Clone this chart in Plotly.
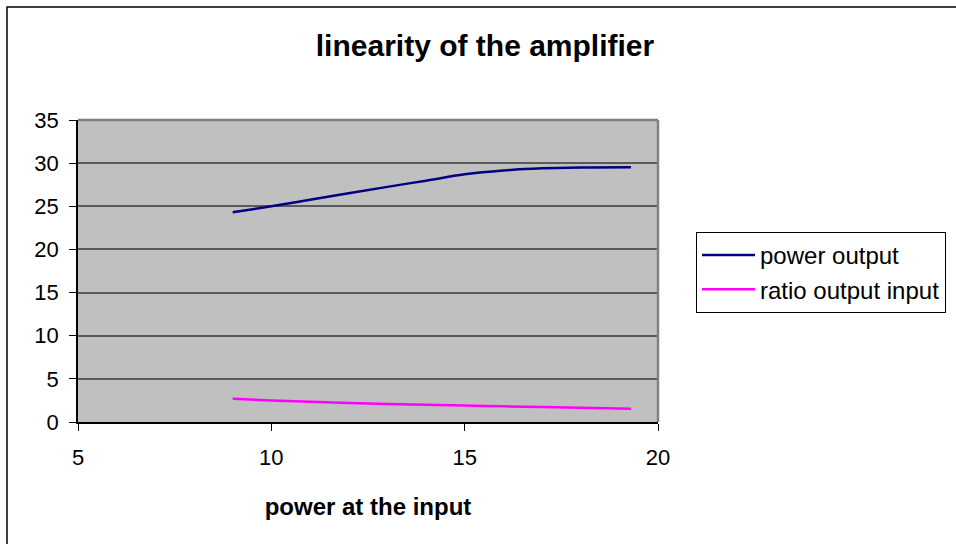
import plotly.graph_objects as go

# Data
power_input = [9, 10, 11, 12, 13, 14, 15, 16, 17, 18, 19.3]
power_output = [24.3, 25.0, 25.75, 26.5, 27.25, 27.97, 28.7, 29.15, 29.4, 29.5, 29.53]
ratio_output_input = [2.70, 2.50, 2.34, 2.21, 2.10, 2.00, 1.91, 1.82, 1.73, 1.64, 1.53]

x_ticks = [5, 10, 15, 20]
y_ticks = [0, 5, 10, 15, 20, 25, 30, 35]

FONT = "Liberation Sans, Arial, sans-serif"

fig = go.Figure()
fig.add_trace(go.Scatter(
    x=power_input, y=power_output, mode="lines", name="power output",
    line=dict(color="#000080", width=2.5, shape="spline", smoothing=1.0),
))
fig.add_trace(go.Scatter(
    x=power_input, y=ratio_output_input, mode="lines", name="ratio output input",
    line=dict(color="#FF00FF", width=2.5, shape="spline", smoothing=1.0),
))

W, H = 956, 544
L, R, T, B = 78, 298, 120, 122
pw, ph = W - L - R, H - T - B

def px_x(p):
    return (p - L) / pw

def px_y(p):
    return (H - B - p) / ph

fig.update_layout(
    width=W, height=H,
    margin=dict(l=L, r=R, t=T, b=B, autoexpand=False),
    paper_bgcolor="white",
    plot_bgcolor="#C0C0C0",
    font=dict(family=FONT, color="black", size=22),
    title=dict(
        text="<b>linearity of the amplifier</b>",
        font=dict(family=FONT, size=30, color="black"),
        x=485 / W, xanchor="center",
        y=1 - 45 / H, yanchor="middle",
        xref="container", yref="container",
    ),
    xaxis=dict(
        range=[5, 20], tickvals=x_ticks, ticktext=[str(v) for v in x_ticks],
        showgrid=False, zeroline=False,
        showline=True, linecolor="black", linewidth=1.5,
        ticks="outside", ticklen=7, tickcolor="black", tickwidth=1,
        tickfont=dict(size=22, family=FONT),
        ticklabelstandoff=8,
        title=dict(text="<b>power at the input</b>",
                   font=dict(size=24, family=FONT), standoff=29),
    ),
    yaxis=dict(
        range=[0, 35], tickvals=y_ticks, ticktext=[str(v) for v in y_ticks],
        showgrid=True, gridcolor="#5a5a5a", gridwidth=1.5,
        zeroline=False,
        showline=True, linecolor="black", linewidth=1.5,
        ticks="outside", ticklen=7, tickcolor="black", tickwidth=1,
        tickfont=dict(size=22, family=FONT),
        ticklabelstandoff=6,
    ),
    legend=dict(
        x=px_x(696), xanchor="left",
        y=px_y(232), yanchor="top",
        bgcolor="white", bordercolor="black", borderwidth=1,
        font=dict(size=24, family=FONT, color="black"),
        itemwidth=53,
        tracegroupgap=0,
    ),
    shapes=[
        # plot area top and right borders (gray)
        dict(type="line", xref="paper", yref="paper", x0=0, x1=1, y0=1, y1=1,
             line=dict(color="#808080", width=2.5), layer="above"),
        dict(type="line", xref="paper", yref="paper", x0=1, x1=1, y0=0, y1=1,
             line=dict(color="#808080", width=2.5), layer="above"),
        # chart frame
        dict(type="rect", xref="paper", yref="paper",
             x0=px_x(7), x1=px_x(1010), y0=px_y(600), y1=px_y(7),
             line=dict(color="black", width=1.5), fillcolor="rgba(0,0,0,0)",
             layer="below"),
    ],
)

fig.write_html(
    "out.html",
    config={"displayModeBar": False},
    post_script="document.body.style.margin='0';document.body.style.overflow='hidden';",
)
